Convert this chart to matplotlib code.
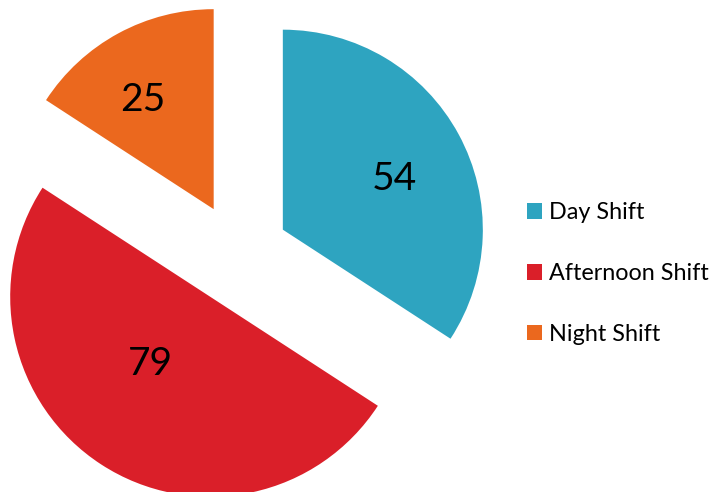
import numpy as np
import matplotlib.pyplot as plt

# shift counts
labels = ['Day Shift', 'Afternoon Shift', 'Night Shift']
values = [54, 79, 25]
colors = ['#2EA4C0', '#DA1F29', '#EB681E']

W, H = 717, 492
fig = plt.figure(figsize=(W / 100, H / 100), dpi=100)
ax = fig.add_axes([0, 0, 1, 1])

# pie in pixel units: center, radius, explode offset
cx, cy, r = 238, H - 254, 200
wedges, _ = ax.pie(values, colors=colors, startangle=90, counterclock=False,
                   center=(cx, cy), radius=r, explode=[51] * 3,
                   wedgeprops=dict(linewidth=0))
ax.set_xlim(0, W)
ax.set_ylim(0, H)
ax.set_aspect('equal')
ax.axis('off')

# value labels placed inside each wedge
dists = [0.615, 0.45, 0.65]
offs = [-4, -8.4, 4.5]
for w, v, d, o in zip(wedges, values, dists, offs):
    ang = np.deg2rad((w.theta1 + w.theta2) / 2 + o)
    x = w.center[0] + d * r * np.cos(ang)
    y = w.center[1] + d * r * np.sin(ang)
    ax.text(x, y, str(v), ha='center', va='center', fontsize=28,
            family='Lato', color='black')

ax.legend(wedges, labels, loc='upper left', bbox_to_anchor=(518 / W, 1 - 193 / H),
          frameon=False, handlelength=0.64, handleheight=0.64, handletextpad=0.3,
          labelspacing=1.7, prop=dict(family='Lato', size=16.8), borderaxespad=0)

fig.savefig('out.png', dpi=100)
